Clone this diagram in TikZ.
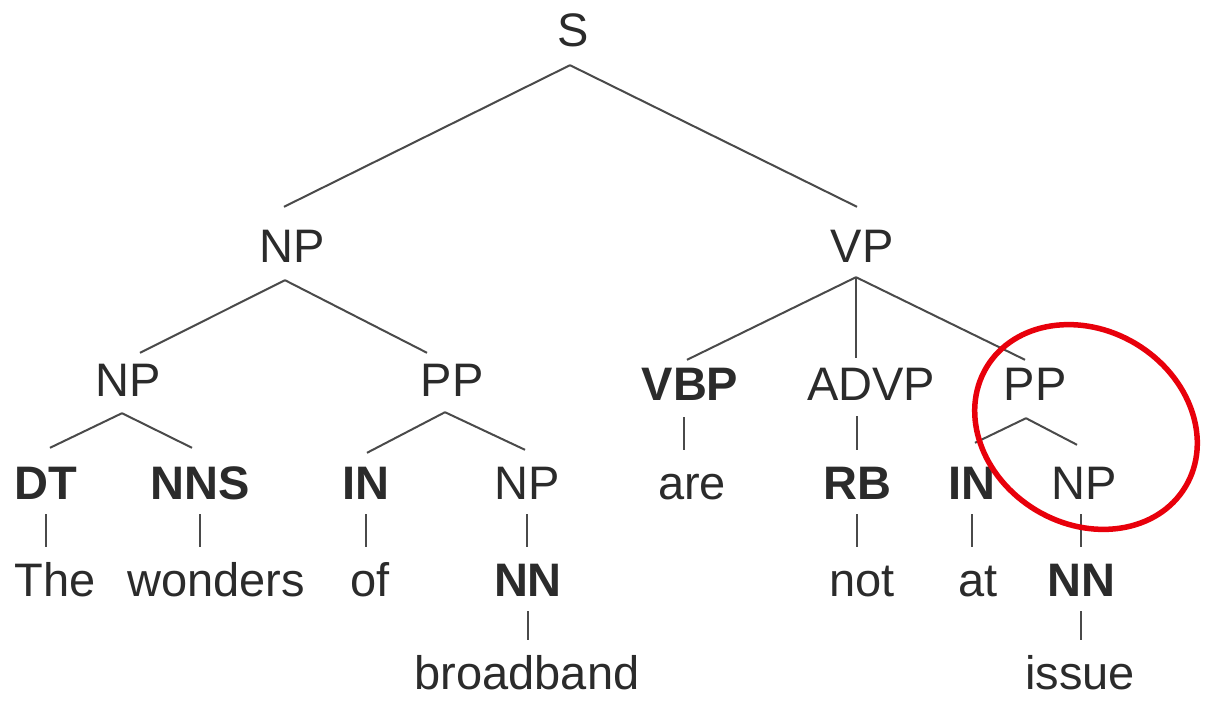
\documentclass[tikz,border=0pt]{standalone}
\usepackage{fontspec}
\setmainfont{Liberation Sans}
\usetikzlibrary{calc}
\definecolor{txt}{HTML}{2B2B2B}
\definecolor{ln}{HTML}{4A4A4A}
\definecolor{ring}{HTML}{E8000B}
\tikzset{
  lab/.style={font=\fontsize{47}{50}\selectfont, text=txt, inner xsep=0pt, inner ysep=15pt,
              text height=34pt, text depth=0pt, anchor=center},
  bl/.style={lab, font=\fontsize{47}{50}\selectfont\bfseries},
  edge/.style={draw=ln, line width=2pt},
  mark ring/.style={draw=ring, line width=5.5pt}
}
\begin{document}
\begin{tikzpicture}[x=1pt,y=-1pt]
\useasboundingbox[fill=white] (0,0) rectangle (1208,707);
% row 0
\node[lab] (S) at (573,29) {S};
% row 1
\node[lab] (NPa) at (292,245) {NP};
\node[lab] (VP) at (862,245) {VP};
% row 2
\node[lab] (NPb) at (128,379) {NP};
\node[lab] (PPa) at (452,379) {PP};
\node[bl]  (VBP) at (690,383) {VBP};
\node[lab] (ADVP) at (871,383) {ADVP};
\node[lab] (PPb) at (1035,383) {PP};
% row 3
\node[bl]  (DT) at (46,482) {DT};
\node[bl]  (NNS) at (200,482) {NNS};
\node[bl]  (INa) at (366,482) {IN};
\node[lab] (NPc) at (527,482) {NP};
\node[lab] (are) at (692,482) {are};
\node[bl]  (RB) at (857,482) {RB};
\node[bl]  (INb) at (972,482) {IN};
\node[lab] (NPd) at (1084,482) {NP};
% row 4
\node[lab] (The) at (55,579) {The};
\node[lab] (wonders) at (216,579) {wonders};
\node[lab] (of) at (370,579) {of};
\node[bl]  (NNa) at (528,579) {NN};
\node[lab] (not) at (862,579) {not};
\node[lab] (at) at (978,579) {at};
\node[bl]  (NNb) at (1081,579) {NN};
% row 5
\node[lab] (broadband) at (527,672) {broadband};
\node[lab] (issue) at (1080,672) {issue};
% junction points just below the parents
\coordinate (jS)   at ($(S.south)+(-3,4)$);
\coordinate (jNPa) at ($(NPa.south)+(-7,3)$);
\coordinate (jVP)  at ($(VP.south)+(-6,0)$);
\coordinate (jNPb) at ($(NPb.south)+(-6,2)$);
\coordinate (jPPa) at ($(PPa.south)+(-7,1)$);
\coordinate (jPPb) at ($(PPb.south)+(-9,3)$);
% branching edges
\draw[edge] (jS) -- ($(NPa.north)+(-8,-6)$);
\draw[edge] (jS) -- ($(VP.north)+(-5,-6)$);
\draw[edge] (jNPa) -- ($(NPb.north)+(12,6)$);
\draw[edge] (jNPa) -- ($(PPa.north)+(-25,6)$);
\draw[edge] (jVP) -- ($(VBP.north)+(-3,9)$);
\draw[edge] (jVP) -- ($(jVP |- ADVP.north)+(0,7)$);
\draw[edge] (jVP) -- ($(PPb.north)+(-10,9)$);
\draw[edge] (jNPb) -- ($(DT.north)+(4,-2)$);
\draw[edge] (jNPb) -- ($(NNS.north)+(-8,-2)$);
\draw[edge] (jPPa) -- ($(INa.north)+(1,3)$);
\draw[edge] (jPPa) -- ($(NPc.north)+(-2,0)$);
\draw[edge] (jPPb) -- ($(INb.north)+(3,-7)$);
\draw[edge] (jPPb) -- ($(NPd.north)+(-7,-5)$);
% unary edges
\draw[edge] ($(VBP.south)+(-6,2)$) -- ($(VBP.south |- are.north)+(-6,0)$);
\draw[edge] ($(ADVP.south -| RB.south)+(0,1)$) -- (RB.north);
\draw[edge] (DT.south) -- (DT.south |- The.north);
\draw[edge] (NNS.south) -- (NNS.south |- wonders.north);
\draw[edge] (INa.south) -- (INa.south |- of.north);
\draw[edge] (NPc.south) -- (NPc.south |- NNa.north);
\draw[edge] (RB.south) -- (RB.south |- not.north);
\draw[edge] (INb.south) -- (INb.south |- at.north);
\draw[edge] (NPd.south -| NNb.south) -- (NNb.north);
\draw[edge] (NNa.south) -- (NNa.south |- broadband.north);
\draw[edge] (NNb.south) -- (NNb.south |- issue.north);
% highlight ring
\draw[mark ring, rotate around={-31:(1086,427)}] (1086,427) ellipse [x radius=116, y radius=97];
\end{tikzpicture}
\end{document}
